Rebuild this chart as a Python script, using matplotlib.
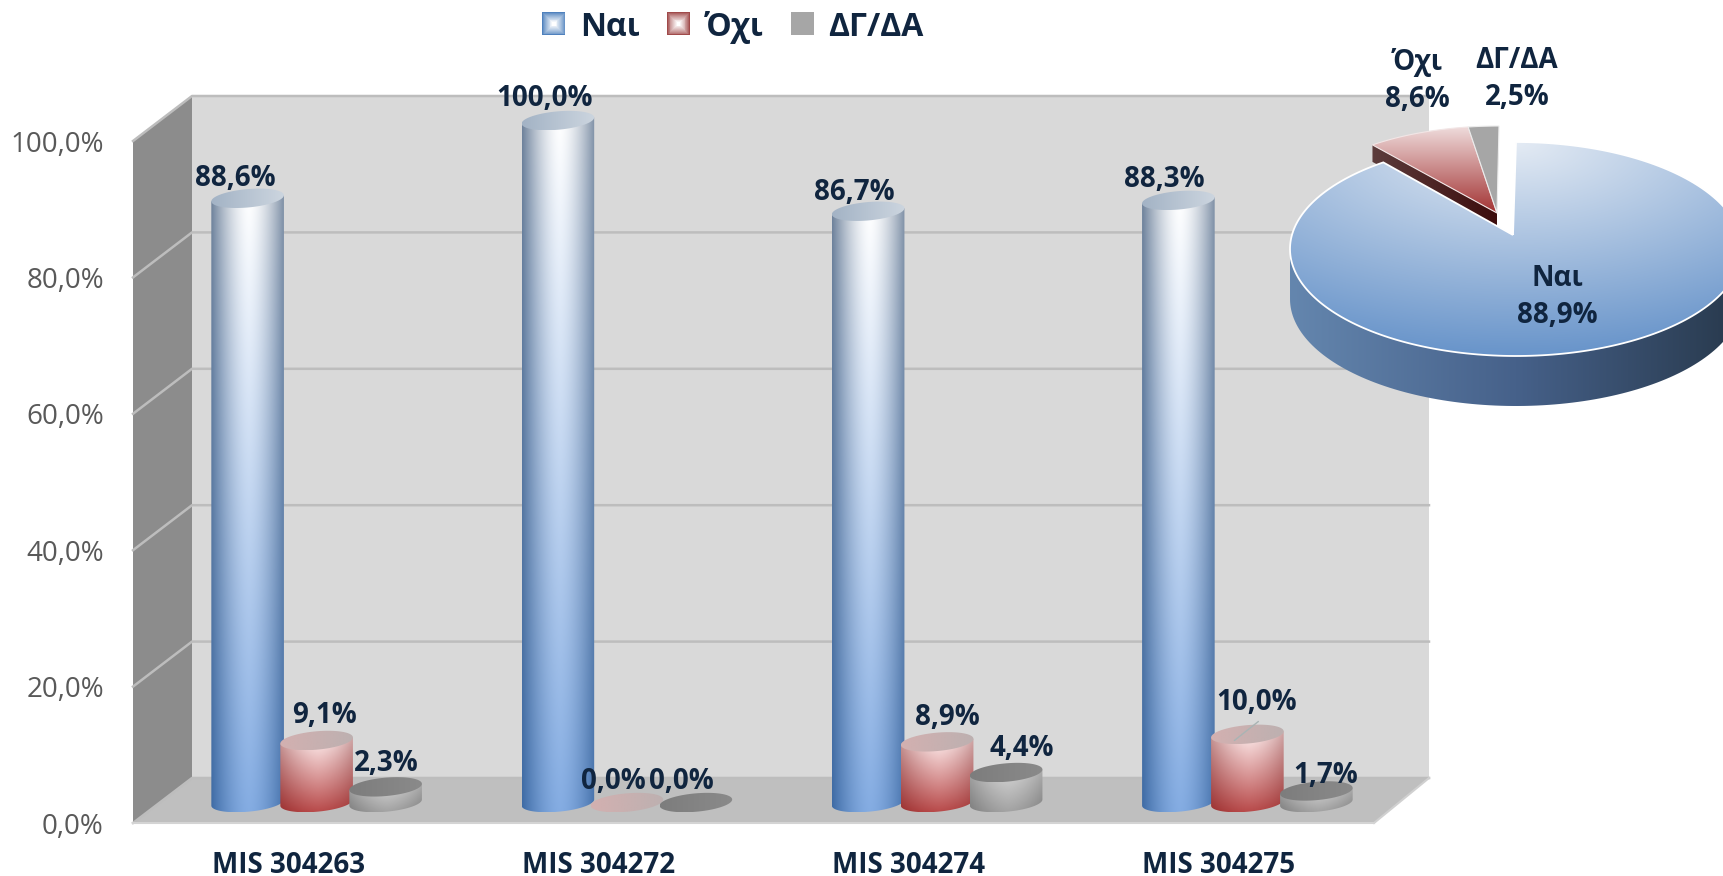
"""Survey answers per MIS project: pseudo-3D cylinders on a box, and a pseudo-3D pie of the total."""
import numpy as np
import matplotlib; matplotlib.use("Agg")
import matplotlib.pyplot as plt
from matplotlib.colors import to_rgb
from matplotlib.legend_handler import HandlerBase
from matplotlib.patches import Patch, Polygon, Rectangle
from matplotlib.path import Path

plt.rcParams["font.family"] = ["Open Sans", "DejaVu Sans"]

# ---- data ----
PROJECTS = ["MIS 304263", "MIS 304272", "MIS 304274", "MIS 304275"]
NAI = [88.6, 100.0, 86.7, 88.3]
OXI = [9.1, 0.0, 8.9, 10.0]
DGDA = [2.3, 0.0, 4.4, 1.7]
SERIES_NAMES = ["Ναι", "Όχι", "ΔΓ/ΔΑ"]
PIE_VALUES = [88.9, 8.6, 2.5]
Y_TICKS = [0, 20, 40, 60, 80, 100]

W, H = 1723, 876
NAVY, TICK_GREY = "#10253f", "#595959"
FS = 20

# cylinder colours: centre top, edge top, centre bottom, edge bottom, lid left, lid right
STYLES = [("#ffffff", "#71849c", "#84ace2", "#3f6ca6", "#a3b3c5", "#ccd5df"),
          ("#fff0f0", "#c89c9c", "#b84a4a", "#9c3030", "#d3b0b0", "#bdb0b0"),
          ("#d6d6d6", "#a6a6a6", "#a2a2a2", "#7e7e7e", "#7d7d7d", "#8a8a8a")]

fig = plt.figure(figsize=(W/100, H/100), dpi=100)
# front plane of the box: x 133..1374 px, y 823..141 px
ax = fig.add_axes([133/W, 1-823/H, (1374-133)/W, (823-141)/H])
ax.set_xlim(-0.5, 3.5); ax.set_ylim(0, 100)
ax.patch.set_visible(False)
for s in ax.spines.values(): s.set_visible(False)
DX, DY = 59/310.25, 45/6.82          # depth of the box in data units
DX_R = 55/310.25                     # right side recedes a little less
BASE = DY/2 - 0.3                    # cylinders stand half way into the box


def gradient_fill(axes, verts, img, zorder):
    verts = np.asarray(verts)
    ext = (verts[:, 0].min(), verts[:, 0].max(), verts[:, 1].min(), verts[:, 1].max())
    im = axes.imshow(img, extent=ext, aspect="auto", origin="upper", zorder=zorder, interpolation="bilinear")
    im.set_clip_box(fig.bbox)
    im.set_clip_path(Path(np.vstack([verts, verts[0]]), closed=True), transform=axes.transData)


def mix(c1, c2, t):
    t = np.asarray(t)[..., None]
    return (1-t)*np.array(to_rgb(c1)) + t*np.array(to_rgb(c2))


def draw_cylinder(xc, y_top, style, zorder):
    ctop, etop, cbot, ebot, lid_l, lid_r = style
    a, b, tilt = 0.117, 1.35, 0.45
    th = np.linspace(0, 2*np.pi, 90)
    ex, ey = a*np.cos(th), b*np.sin(th) + tilt*np.cos(th)
    top = BASE + y_top
    if y_top > 0:
        lo = th[(th >= np.pi) & (th <= 2*np.pi)]
        bx, by = xc + a*np.cos(lo), BASE + b*np.sin(lo) + tilt*np.cos(lo)
        hi = np.linspace(0, np.pi, 45)
        tx, ty = xc + a*np.cos(hi), top + tilt*np.cos(hi)
        body = np.vstack([np.column_stack([bx, by]), np.column_stack([tx, ty])])
        v, u = np.meshgrid(np.linspace(0, 1, 200), np.linspace(0, 1, 60), indexing="ij")
        edge = np.clip(np.abs(u-0.52)/0.52, 0, 1)**1.6
        img = (1-edge[..., None])*mix(ctop, cbot, v) + edge[..., None]*mix(etop, ebot, v)
        gradient_fill(ax, body, img, zorder)
    lid = np.column_stack([xc+ex, top+ey])
    u = np.linspace(0, 1, 60)[None, :]
    gradient_fill(ax, lid, mix(lid_l, lid_r, u), zorder+0.1)


# ---- box walls and gridlines (grid and ticks come from the y axis values) ----
ax.add_patch(Polygon([(-0.5+DX, DY), (3.5+DX_R, DY), (3.5+DX_R, 100+DY), (-0.5+DX, 100+DY)], fc="#d9d9d9", ec="none", clip_on=False, zorder=1))
ax.add_patch(Polygon([(-0.5, 0), (-0.5+DX, DY), (-0.5+DX, 100+DY), (-0.5, 100)], fc="#8c8c8c", ec="none", clip_on=False, zorder=1))
ax.add_patch(Polygon([(-0.5, 0), (3.5, 0), (3.5+DX_R, DY), (-0.5+DX, DY)], fc="#bfbfbf", ec="none", clip_on=False, zorder=1.5))
for t in Y_TICKS:
    ax.plot([-0.5, -0.5+DX, 3.5+DX_R], [t, t+DY, t+DY], color="#bdbdbd", lw=1.8, clip_on=False, zorder=1.2 if t else 1.6)
ax.plot([3.5, 3.5+DX_R], [0, DY], color="#d0d0d0", lw=1.5, clip_on=False, zorder=1.6)
ax.plot([-0.5, 3.5], [0, 0], color="#d4d4d4", lw=1.5, clip_on=False, zorder=1.6)

ax.set_yticks(Y_TICKS, [("%.1f%%" % t).replace(".", ",") for t in Y_TICKS], color=TICK_GREY, fontsize=20)
ax.set_xticks(range(len(PROJECTS)), PROJECTS, color=NAVY, fontsize=FS, fontweight="bold")
ax.tick_params(axis="y", length=0, pad=21)
ax.tick_params(axis="x", length=0, pad=20)

# ---- cylinders and their labels ----
STEP = 69/310.25
# label shift from the lid centre, in pixels, one row per series
LABEL_SHIFT = [[(-12, 20), (-13, 22), (-14, 19), (-14, 21)],
               [(8, 25), (-13, 21), (10, 24), (9, 32)],
               [(1, 23), (-14, 21), (16, 24), (9, 15)]]
z = 3
for s, values in enumerate([NAI, OXI, DGDA]):
    for i, val in enumerate(values):
        xc = i + DX/2 + (s-1)*STEP - 1/310
        draw_cylinder(xc, val, STYLES[s], z); z += 1
        ax.annotate(("%.1f%%" % val).replace(".", ","), (xc, val+BASE), xytext=LABEL_SHIFT[s][i], textcoords="offset pixels",
                    ha="center", va="center", color=NAVY, fontsize=FS, fontweight="bold", annotation_clip=False, zorder=100)
        if s == 1 and i == 3:        # leader line of the 10,0% label
            ax.annotate("", (xc-13/310.25, val+BASE-0.9), xytext=(24, 19), textcoords="offset pixels", annotation_clip=False, zorder=99,
                        arrowprops=dict(arrowstyle="-", color="#a9b4b4", lw=1, shrinkA=0, shrinkB=0))

# ---- pie: unit ellipse around (1516, 249) px with radii 226 x 107 px ----
CX, CY, RX, RY = 1516, 249, 226, 107
pie = fig.add_axes([(CX-RX)/W, 1-(CY+RY)/H, 2*RX/W, 2*RY/H])
pie.set_xlim(-1, 1); pie.set_ylim(-1, 1); pie.axis("off")
to_pie = lambda px, py: ((px-CX)/RX, (CY-py)/RY)


def arc(a0, a1, n=120):
    # angles run clockwise from 12 o'clock, as in the original
    t = np.radians(np.linspace(a0, a1, n))
    return np.column_stack([np.sin(t), np.cos(t)])


ends = np.cumsum(PIE_VALUES)/np.sum(PIE_VALUES)*360
THICK = 50/RY
# small slices sit further back, so they are drawn smaller
sx, sy = 197/RX, 81/RY
back_c = np.array(to_pie(1499, 207)); back_apex = np.array(to_pie(1497, 213))
oxi_arc = arc(ends[0], ends[1], 30)*[sx, sy] + back_c
dg_arc = arc(ends[1], ends[2], 12)*[sx, sy] + back_c
cut = np.array([oxi_arc[0], back_apex, back_apex-[0, 15/RY], oxi_arc[0]-[0, 17/RY]])
u = np.linspace(0, 1, 40)[None, :]
gradient_fill(pie, cut, mix("#5c3c3c", "#3d0d0d", u), 2)
oxi_top = np.vstack([back_apex, oxi_arc])
v = np.linspace(0, 1, 100)[:, None]
gradient_fill(pie, oxi_top, mix("#efdcdc", "#a33434", v), 3)
pie.add_patch(Polygon(oxi_top, fc="none", ec="#f2e6e6", lw=0.8, clip_on=False, zorder=3.1))
pie.add_patch(Polygon(np.vstack([back_apex, dg_arc]), fc="#a6a6a6", ec="#ececec", lw=0.8, clip_on=False, zorder=3.2))

side_arc = arc(90, 270)
side = np.vstack([side_arc, side_arc[::-1]-[0, THICK]])
u = np.linspace(0, 1, 200)
side_img = np.where((u < 0.5)[..., None], mix("#6486ae", "#46618a", np.clip(u*2, 0, 1)), mix("#46618a", "#28394c", np.clip(u*2-1, 0, 1)))
gradient_fill(pie, side, side_img[None, :], 4)
nai_apex = np.array(to_pie(1513, 235))
# the far end of the slice lands a few degrees on because of the perspective
nai_top = np.vstack([nai_apex, arc(0, ends[0]+4, 240)])
# light falls off from the top of the ellipse
gy, gx = np.meshgrid(np.linspace(1, -1, 200), np.linspace(-1, 1, 200), indexing="ij")
gradient_fill(pie, nai_top, mix("#e4ebf4", "#6894ca", np.clip(np.hypot(gx, 1-gy)/2, 0, 1)), 5)
pie.add_patch(Polygon(nai_top, fc="none", ec="white", lw=1.3, clip_on=False, zorder=5.1))

for (px, py), name, val in zip([(1557, 297), (1417, 81), (1517, 79)], SERIES_NAMES, PIE_VALUES):
    pie.text(*to_pie(px, py), "%s\n%s%%" % (name, ("%.1f" % val).replace(".", ",")), ha="center", va="center",
             color=NAVY, fontsize=FS, fontweight="bold", linespacing=1.35, clip_on=False, zorder=10)


# ---- legend: swatches with a white centre fading out to the series colour ----
class GlowHandler(HandlerBase):
    def __init__(self, edge, glow):
        super().__init__(); self.edge, self.glow = edge, glow

    def create_artists(self, legend, handle, x0, y0, w, h, fontsize, trans):
        out = []
        for k in range(12):
            t = k/11
            f = 1-t*0.85
            col = mix(self.edge, "white", t**0.8) if self.glow else self.edge
            out.append(Rectangle((x0+w*(1-f)/2, y0+h*(1-f)/2), w*f, h*f, fc=col, ec="none", transform=trans))
        return out


handles = [Patch(label=n) for n in SERIES_NAMES]
hmap = {handles[0]: GlowHandler("#4f81bd", True), handles[1]: GlowHandler("#a04a4a", True), handles[2]: GlowHandler("#a6a6a6", False)}
leg = fig.legend(handles=handles, handler_map=hmap, ncols=3, loc="center", bbox_to_anchor=(733/W, 1-27/H), frameon=False,
                 prop=dict(size=23, weight="bold"), handlelength=0.72, handleheight=0.72, handletextpad=0.46, columnspacing=0.85,
                 labelcolor=NAVY)

fig.savefig("out.png", dpi=100)
